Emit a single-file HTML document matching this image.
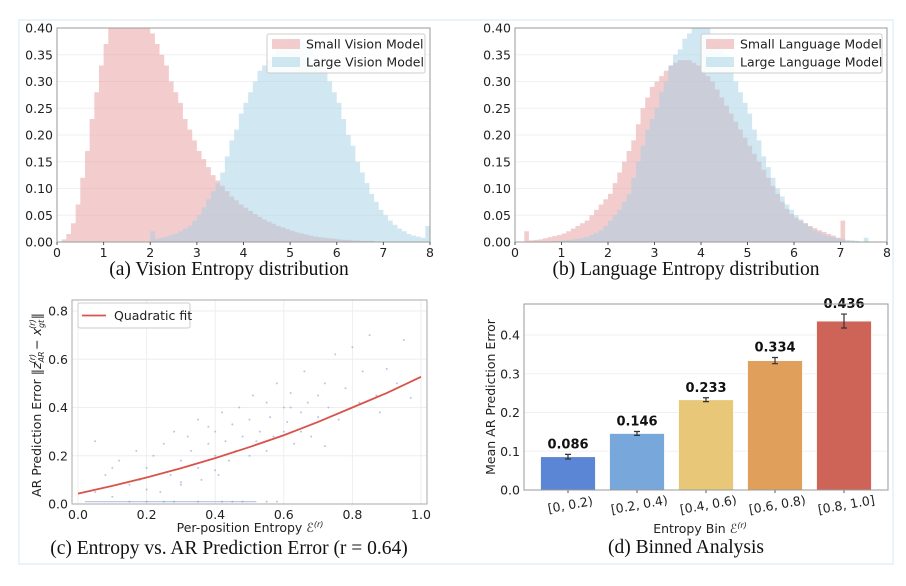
<!DOCTYPE html>
<html><head><meta charset="utf-8">
<style>
html,body{margin:0;padding:0;background:#fff;}
svg{display:block;font-family:"DejaVu Sans","Liberation Sans",sans-serif;}
.cap{font-family:"Liberation Serif",serif;font-size:19.5px;fill:#111;}
.tk{font-size:12.5px;fill:#222;}
</style></head>
<body>
<svg id="fig" width="906" height="586" viewBox="0 0 906 586">
<rect x="19" y="20" width="874" height="544" fill="none" stroke="#e2eff9" stroke-width="1.5"/>
<g id="pa"></g>
<g id="pb"></g>
<g id="pc"></g>
<g id="pd"></g>
</svg>
<script>
// ---- data (histograms, bin width 0.1 from 0 to 8) ----
const visionSmall=[0,0.005,0.015,0.035,0.07,0.12,0.17,0.23,0.28,0.33,
0.37,0.40,0.42,0.43,0.44,0.44,0.44,0.43,0.42,0.41,
0.39,0.37,0.35,0.33,0.30,0.28,0.26,0.23,0.21,0.19,
0.17,0.155,0.14,0.125,0.115,0.105,0.095,0.085,0.078,0.07,
0.064,0.058,0.052,0.047,0.042,0.038,0.034,0.03,0.027,0.024,
0.021,0.018,0.016,0.014,0.012,0.01,0.009,0.008,0.007,0.006,
0.005,0.004,0.004,0.003,0.003,0.002,0.002,0.002,0.001,0.001,
0.001,0.001,0,0,0,0,0,0,0,0];
const visionLarge=[0,0,0,0,0,0,0,0,0,0,0,0,0,0,0,0,0,0,0,0,
0.02,0.006,0.008,0.01,0.013,0.016,0.02,0.025,0.03,0.04,
0.05,0.065,0.08,0.095,0.11,0.13,0.16,0.19,0.21,0.24,
0.26,0.28,0.30,0.32,0.33,0.34,0.35,0.36,0.37,0.375,
0.38,0.38,0.375,0.37,0.36,0.35,0.335,0.32,0.30,0.28,
0.26,0.23,0.20,0.18,0.15,0.13,0.11,0.09,0.075,0.06,
0.05,0.04,0.032,0.025,0.02,0.015,0.012,0.01,0.008,0.03];
const langSmall=[0,0,0.02,0.003,0.004,0.005,0.007,0.009,0.011,0.013,
0.016,0.02,0.025,0.03,0.035,0.04,0.05,0.06,0.07,0.08,
0.09,0.11,0.13,0.15,0.17,0.19,0.22,0.25,0.27,0.29,
0.30,0.31,0.32,0.33,0.335,0.34,0.34,0.34,0.335,0.33,
0.32,0.31,0.30,0.285,0.27,0.255,0.24,0.225,0.21,0.195,
0.18,0.165,0.15,0.135,0.12,0.105,0.09,0.075,0.062,0.052,
0.045,0.04,0.035,0.03,0.026,0.022,0.019,0.015,0.012,0.008,
0.04,0,0,0,0,0,0,0,0,0];
const langLarge=[0,0,0,0,0,0.001,0.001,0.001,0.002,0.002,
0.003,0.004,0.005,0.006,0.008,0.01,0.013,0.017,0.022,0.03,
0.04,0.05,0.06,0.075,0.09,0.12,0.15,0.18,0.21,0.23,
0.25,0.28,0.30,0.33,0.35,0.36,0.38,0.39,0.41,0.42,
0.41,0.40,0.38,0.37,0.36,0.35,0.33,0.30,0.28,0.26,
0.24,0.21,0.19,0.16,0.14,0.12,0.10,0.085,0.07,0.06,
0.05,0.042,0.035,0.028,0.022,0.018,0.014,0.011,0.009,0.007,
0.006,0.004,0.003,0.002,0.001,0.008,0,0,0,0];
const histYTicks=["0.00","0.05","0.10","0.15","0.20","0.25","0.30","0.35","0.40"];
const histXTicks=["0","1","2","3","4","5","6","7","8"];
// scatter
const fitX=[0,0.1,0.2,0.3,0.4,0.5,0.6,0.7,0.8,0.9,1.0];
const fitY=[0.043,0.075,0.11,0.148,0.19,0.236,0.285,0.34,0.40,0.46,0.527];
const scatX=[0.05,0.08,0.1,0.12,0.15,0.17,0.18,0.2,0.22,0.24,0.25,0.27,0.28,0.3,0.3,0.32,0.33,0.35,0.35,0.36,0.38,0.38,0.4,0.4,0.41,0.42,0.43,0.44,0.45,0.46,0.47,0.48,0.5,0.5,0.51,0.52,0.53,0.55,0.55,0.56,0.57,0.58,0.6,0.6,0.61,0.62,0.63,0.65,0.65,0.66,0.67,0.68,0.7,0.7,0.72,0.73,0.75,0.76,0.78,0.8,0.82,0.83,0.85,0.87,0.88,0.9,0.93,0.95,0.97,0.25,0.35,0.45,0.55,0.15,0.2,0.28,0.42,0.48,0.58,0.62,0.68,0.72,0.05,0.1,0.2,0.3,0.4];
const scatY=[0.05,0.12,0.03,0.18,0.08,0.22,0.1,0.15,0.2,0.05,0.25,0.12,0.3,0.18,0.08,0.28,0.22,0.35,0.15,0.1,0.25,0.32,0.3,0.2,0.12,0.38,0.26,0.18,0.33,0.22,0.4,0.28,0.2,0.35,0.45,0.26,0.3,0.22,0.42,0.36,0.28,0.5,0.3,0.4,0.34,0.46,0.25,0.38,0.3,0.55,0.42,0.33,0.45,0.36,0.5,0.4,0.62,0.35,0.48,0.65,0.42,0.55,0.7,0.45,0.38,0.56,0.5,0.68,0.44,0.01,0.01,0.01,0.01,0.01,0.01,0.01,0.01,0.01,0.01,0.4,0.28,0.24,0.26,0.15,0.06,0.09,0.14];
const cYTicks=["0.0","0.2","0.4","0.6","0.8"];
const cXTicks=["0.0","0.2","0.4","0.6","0.8","1.0"];
// bars
const binCats=["[0, 0.2)","[0.2, 0.4)","[0.4, 0.6)","[0.6, 0.8)","[0.8, 1.0]"];
const binMeans=[0.086,0.146,0.233,0.334,0.436];
const binErrs=[0.006,0.005,0.005,0.008,0.018];
const binLabels=["0.086","0.146","0.233","0.334","0.436"];
const dYTicks=["0.0","0.1","0.2","0.3","0.4"];
const barColors=["#5b86d5","#78a8db","#e8c878","#e0a05c","#cd6457"];

const NS="http://www.w3.org/2000/svg";
function mk(parent,tag,attrs,text){const e=document.createElementNS(NS,tag);for(const k in attrs)e.setAttribute(k,attrs[k]);if(text!==undefined)e.textContent=text;parent.appendChild(e);return e;}

function histPanel(g,x0,x1,y0,y1,s1,s2,l1,l2,legX,legW,cap,capX){
  const xs=v=>x0+(x1-x0)*v/8, ys=v=>y0-(y0-y1)*Math.min(v,0.42)/0.4;
  const fr=mk(g,'rect',{x:x0,y:y1,width:x1-x0,height:y0-y1,fill:'#fff',stroke:'none'});
  
  
  histYTicks.forEach((t,i)=>{const v=i*0.05,y=ys(v);
    const gl=mk(g,'line',{x1:x0,x2:x1,y1:y,y2:y,stroke:'#f0f0f0'});
    
    
    const tx=mk(g,'text',{x:x0-4,y:y+4.5,'text-anchor':'end',class:'tk'},t);
    
    });
  const cp=mk(g,'clipPath',{id:'clip'+capX});mk(cp,'rect',{x:x0,y:y1,width:x1-x0,height:y0-y1});
  [[s1,'#e79c9c'],[s2,'#a3d0e4']].forEach(([arr,c],k)=>{
    let d='M'+xs(0)+','+ys(0);
    arr.forEach((v,i)=>{d+=' L'+xs(i*0.1)+','+ys(v)+' L'+xs((i+1)*0.1)+','+ys(v);});
    d+=' L'+xs(8)+','+ys(0)+' Z';
    const p=mk(g,'path',{d:d,fill:c,'fill-opacity':0.5,'clip-path':'url(#clip'+capX+')'});
    
    });
  const b=mk(g,'rect',{x:x0,y:y1,width:x1-x0,height:y0-y1,fill:'none',stroke:'#999','stroke-width':1});
  
  
  histXTicks.forEach((t,i)=>{const x=xs(i);
    mk(g,'line',{x1:x,x2:x,y1:y0,y2:y0+3,stroke:'#555'});
    const tx=mk(g,'text',{x:x,y:y0+15,'text-anchor':'middle',class:'tk'},t);
    
    });
  const lg=mk(g,'g',{});
  
  
  mk(lg,'rect',{x:legX,y:34,width:legW,height:39,fill:'#fff','fill-opacity':0.85,stroke:'#ccc',rx:2});
  mk(lg,'rect',{x:legX+5,y:39,width:28,height:10,fill:'#e79c9c','fill-opacity':0.5});
  mk(lg,'rect',{x:legX+5,y:57,width:28,height:10,fill:'#a3d0e4','fill-opacity':0.5});
  const e1=mk(lg,'text',{x:legX+39,y:48.5,class:'tk'},l1);
  
  
  const e2=mk(lg,'text',{x:legX+39,y:66.5,class:'tk'},l2);
  
  
  const c=mk(g,'text',{x:capX,y:275,'text-anchor':'middle',class:'cap'},cap);
  
  
}
histPanel(document.getElementById('pa'),57,430,242,28,visionSmall,visionLarge,'Small Vision Model','Large Vision Model',267,158,'(a) Vision Entropy distribution',229);
histPanel(document.getElementById('pb'),515,887,242,28,langSmall,langLarge,'Small Language Model','Large Language Model',701,181,'(b) Language Entropy distribution',686);

// panel c
(function(){
  const g=document.getElementById('pc');
  const x0=72,x1=427,yTop=300,yBot=504;
  const xs=v=>78+(421-78)*v, ys=v=>504-(504-311)*v/0.8;
  cYTicks.forEach((t,i)=>{const y=ys(i*0.2);
    mk(g,'line',{x1:x0,x2:x1,y1:y,y2:y,stroke:'#eeeeee'});
    const tx=mk(g,'text',{x:x0-4,y:y+4.5,'text-anchor':'end',class:'tk'},t);
    
    });
  cXTicks.forEach((t,i)=>{const x=xs(i*0.2);
    mk(g,'line',{x1:x,x2:x,y1:yTop,y2:yBot,stroke:'#eeeeee'});
    const tx=mk(g,'text',{x:x,y:yBot+15,'text-anchor':'middle',class:'tk'},t);
    
    });
  mk(g,'line',{x1:xs(0.02),x2:xs(0.52),y1:ys(0.01),y2:ys(0.01),stroke:'#8ea4cf','stroke-width':1.2,'stroke-opacity':0.6});
  scatX.forEach((x,i)=>{const p=mk(g,'circle',{cx:xs(x),cy:ys(scatY[i]),r:1,fill:'#6f8fc8','fill-opacity':0.5});
    
    });
  let d='';fitX.forEach((x,i)=>{d+=(i?' L':'M')+xs(x)+','+ys(fitY[i]);});
  const fl=mk(g,'path',{d:d,fill:'none',stroke:'#d9534a','stroke-width':1.8});
  
  
  const fr=mk(g,'rect',{x:x0,y:yTop,width:x1-x0,height:yBot-yTop,fill:'none',stroke:'#aaa'});
  
  
  const lg=mk(g,'g',{});
  
  
  mk(lg,'rect',{x:78,y:303,width:112,height:25,fill:'#fff',stroke:'#ccc',rx:2});
  mk(lg,'line',{x1:82,x2:106,y1:315.5,y2:315.5,stroke:'#d9534a','stroke-width':1.8});
  mk(lg,'text',{x:114,y:320,class:'tk'},'Quadratic fit');
  const xl=mk(g,'text',{x:250,y:532,'text-anchor':'middle',class:'tk'},'Per-position Entropy ');
  mk(xl,'tspan',{'font-style':'italic'},'ℰ');
  mk(xl,'tspan',{'font-size':'8px',dy:'-5','font-style':'italic'},'(r)');
  
  
  const yl=mk(g,'text',{transform:'translate(41,405) rotate(-90)','text-anchor':'middle',class:'tk'});
  
  
  yl.appendChild(document.createTextNode('AR Prediction Error ‖'));
  mk(yl,'tspan',{'font-style':'italic'},'z');
  mk(yl,'tspan',{'font-size':'8px','font-style':'italic',dy:'3'},'AR');
  mk(yl,'tspan',{'font-size':'8px','font-style':'italic',dy:'-9',dx:'-12'},'(r)');
  mk(yl,'tspan',{dy:'6'},' − ');
  mk(yl,'tspan',{'font-style':'italic'},'x');
  mk(yl,'tspan',{'font-size':'8px','font-style':'italic',dy:'3'},'gt');
  mk(yl,'tspan',{'font-size':'8px','font-style':'italic',dy:'-9',dx:'-9'},'(r)');
  mk(yl,'tspan',{dy:'6'},'‖');
  const c=mk(g,'text',{x:229,y:554,'text-anchor':'middle',class:'cap'},'(c) Entropy vs. AR Prediction Error  (r = 0.64)');
  
  
})();

// panel d
(function(){
  const g=document.getElementById('pd');
  const x0=524,x1=888,yTop=304,yBot=490;
  const ys=v=>490-(490-335)*v/0.4, xc=i=>568+69*i, bw=55;
  dYTicks.forEach((t,i)=>{const y=ys(i*0.1);
    mk(g,'line',{x1:x0,x2:x1,y1:y,y2:y,stroke:'#f0f0f0'});
    const tx=mk(g,'text',{x:x0-4,y:y+4.5,'text-anchor':'end',class:'tk'},t);
    
    });
  binMeans.forEach((v,i)=>{
    const b=mk(g,'rect',{x:xc(i)-bw/2,y:ys(v),width:bw,height:ys(0)-ys(v),fill:barColors[i],stroke:'#fff','stroke-width':0.8});
    
    
    const e=binErrs[i],yh=ys(v+e),yl=ys(v-e);
    const eb=mk(g,'path',{d:`M${xc(i)},${yh} L${xc(i)},${yl} M${xc(i)-3},${yh} L${xc(i)+3},${yh} M${xc(i)-3},${yl} L${xc(i)+3},${yl}`,stroke:'#333','stroke-width':1.2,fill:'none'});
    
    
    const lb=mk(g,'text',{x:xc(i),y:yh-6,'text-anchor':'middle','font-weight':'bold','font-size':'13px',fill:'#111'},binLabels[i]);
    
    
    mk(g,'line',{x1:xc(i),x2:xc(i),y1:yBot,y2:yBot+3,stroke:'#555'});
    const tx=mk(g,'text',{transform:`translate(${xc(i)+3},${yBot+19}) rotate(-10)`,'text-anchor':'middle',class:'tk'},binCats[i]);
    
    
  });
  const fr=mk(g,'rect',{x:x0,y:yTop,width:x1-x0,height:yBot-yTop,fill:'none',stroke:'#999'});
  
  
  const xl=mk(g,'text',{x:700,y:533,'text-anchor':'middle',class:'tk'},'Entropy Bin ');
  mk(xl,'tspan',{'font-style':'italic'},'ℰ');
  mk(xl,'tspan',{'font-size':'8px',dy:'-5','font-style':'italic'},'(r)');
  
  
  const yl=mk(g,'text',{transform:'translate(495,397) rotate(-90)','text-anchor':'middle',class:'tk'},'Mean AR Prediction Error');
  
  
  const c=mk(g,'text',{x:686,y:553,'text-anchor':'middle',class:'cap'},'(d) Binned Analysis');
  
  
})();
</script>
</body></html>
